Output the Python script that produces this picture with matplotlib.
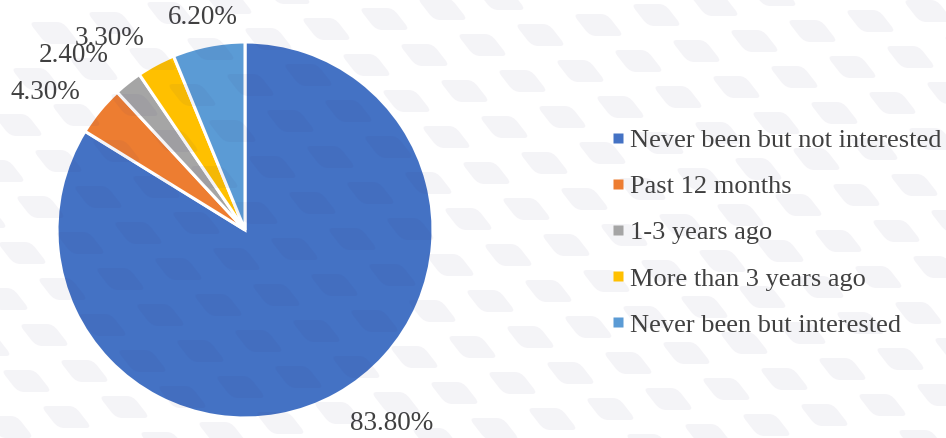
import matplotlib
matplotlib.use("Agg")
import matplotlib.pyplot as plt
import numpy as np
from matplotlib.patches import FancyBboxPatch
from matplotlib.transforms import Affine2D

# Travel history shares (percent)
categories = [
    "Never been but not interested",
    "Past 12 months",
    "1-3 years ago",
    "More than 3 years ago",
    "Never been but interested",
]
shares = [83.8, 4.3, 2.4, 3.3, 6.2]
colors = ["#4472c4", "#ed7d31", "#a5a5a5", "#ffc000", "#5b9bd5"]

# per-slice label placement (radius in pie units, angular nudge in degrees)
label_radius = [1.29, 1.29, 1.30, 1.25, 1.15]
label_nudge = [8, 5, 6, 7, 0]

W, H = 946, 438
CX, CY, R = 245, 208, 188   # pie centre / radius in pixels (from bottom-left)
TEXT = "#404040"

plt.rcParams["font.family"] = ["Liberation Serif", "DejaVu Serif"]

fig = plt.figure(figsize=(W / 100, H / 100), dpi=100)

ax = fig.add_axes([0, 0, 1, 1])
wedges, _ = ax.pie(
    shares,
    colors=colors,
    startangle=90,
    counterclock=False,
    radius=1.0,
    wedgeprops=dict(edgecolor="white", linewidth=2.2),
)
ax.set_aspect("equal")
ax.set_xlim(-CX / R, (W - CX) / R)
ax.set_ylim(-CY / R, (H - CY) / R)
ax.axis("off")

for w, val, rr, nudge in zip(wedges, shares, label_radius, label_nudge):
    mid = np.deg2rad((w.theta1 + w.theta2) / 2 + nudge)
    ax.text(rr * np.cos(mid), rr * np.sin(mid), f"{val:.2f}%",
            ha="center", va="center", fontsize=19.5, color=TEXT)

handles = [plt.Line2D([], [], marker="s", linestyle="none", markersize=6.5,
                      markerfacecolor=c, markeredgecolor="none") for c in colors]
fig.legend(handles, categories, loc="upper left", bbox_to_anchor=(601 / W, 1 - 118 / H),
           frameon=False, fontsize=19, labelcolor=TEXT, handlelength=0.5,
           handletextpad=0.2, labelspacing=0.86, borderaxespad=0)

# faint tiled watermark laid over the whole slide
ov = fig.add_axes([0, 0, 1, 1], zorder=5)
ov.set_xlim(0, W)
ov.set_ylim(0, H)
ov.axis("off")
ov.patch.set_alpha(0)
for row in range(-4, 14):
    for col in range(-2, 20):
        x0 = col * 58 + row * 18
        y0 = row * 46 + col * 10
        box = FancyBboxPatch((0, 0), 34, 22, boxstyle="round,pad=0,rounding_size=6",
                             facecolor="#3a2a70", edgecolor="none", alpha=0.05)
        box.set_transform(Affine2D().skew_deg(-38, 0).translate(x0, y0) + ov.transData)
        ov.add_patch(box)

fig.savefig("out.png", dpi=100)
